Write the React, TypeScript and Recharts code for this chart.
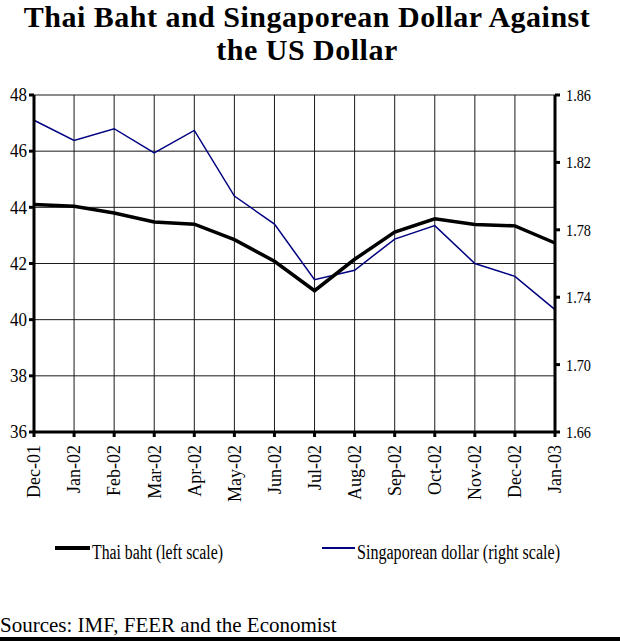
import React from 'react';
import { LineChart, Line, XAxis, YAxis, CartesianGrid } from 'recharts';

// month labels along the x axis
const months = [
  'Dec-01', 'Jan-02', 'Feb-02', 'Mar-02', 'Apr-02', 'May-02', 'Jun-02',
  'Jul-02', 'Aug-02', 'Sep-02', 'Oct-02', 'Nov-02', 'Dec-02', 'Jan-03',
];

// baht per US dollar (left scale)
const thaiBaht = [
  44.1, 44.04, 43.8, 43.48, 43.4, 42.85, 42.08, 41.03, 42.15, 43.12, 43.59, 43.39, 43.34, 42.73,
];

// Singapore dollar per US dollar (right scale)
const sgDollar = [
  1.845, 1.833, 1.84, 1.8256, 1.839, 1.8, 1.7834, 1.7504, 1.756, 1.7745, 1.7825, 1.76, 1.7524, 1.7326,
];

const leftTicks = [36, 38, 40, 42, 44, 46, 48];
const rightTicks = [1.66, 1.7, 1.74, 1.78, 1.82, 1.86];

const seriesNames = ['Thai baht (left scale)', 'Singaporean dollar (right scale)'];

const titleLines = ['Thai Baht and Singaporean Dollar Against', 'the US Dollar'];
const sourceNote = 'Sources: IMF, FEER and the Economist';

const data = months.map((m, i) => ({ month: m, baht: thaiBaht[i], sgd: sgDollar[i] }));

const SERIF = '"Liberation Serif", "Times New Roman", serif';

const XTick = (props: any) => {
  const { x, y, payload } = props;
  return (
    <g transform={`translate(${x},${y})`}>
      <text
        x={0}
        y={0}
        dy="0.35em"
        transform="rotate(-90)"
        textAnchor="end"
        fontSize={18}
        fontFamily={SERIF}
        fill="#000"
      >
        {payload.value}
      </text>
    </g>
  );
};

const LeftTick = (props: any) => {
  const { x, y, payload } = props;
  const label = String(payload.value);
  return (
    <text
      x={x}
      y={y}
      dy="0.35em"
      textAnchor="end"
      fontSize={18}
      fontFamily={SERIF}
      fill="#000"
      textLength={label.length * 8.5}
      lengthAdjust="spacingAndGlyphs"
    >
      {label}
    </text>
  );
};

const RightTick = (props: any) => {
  const { x, y, payload } = props;
  const label = Number(payload.value).toFixed(2);
  return (
    <text
      x={x}
      y={y}
      dy="0.35em"
      textAnchor="start"
      fontSize={17}
      fontFamily={SERIF}
      fill="#000"
      textLength={25}
      lengthAdjust="spacingAndGlyphs"
    >
      {label}
    </text>
  );
};

const axisLine = { stroke: '#000', strokeWidth: 3 };
const tickLine = { stroke: '#000', strokeWidth: 3 };

export default function App() {
  return (
    <div
      style={{
        position: 'absolute',
        left: 0,
        top: 0,
        width: 620,
        height: 641,
        background: '#fff',
        overflow: 'hidden',
      }}
    >
      <div
        style={{
          position: 'absolute',
          left: 0,
          top: 0,
          width: 614,
          textAlign: 'center',
          fontFamily: SERIF,
          fontWeight: 'bold',
          fontSize: 30,
          lineHeight: '33px',
          letterSpacing: 0.5,
          color: '#000',
        }}
      >
        {titleLines.map((t) => (
          <div key={t}>{t}</div>
        ))}
      </div>

      <div style={{ position: 'absolute', left: 0, top: 0 }}>
        <LineChart width={620} height={520} data={data} margin={{ top: 95, right: 0, bottom: 0, left: 0 }}>
          <CartesianGrid yAxisId="left" stroke="#1a1a1a" strokeWidth={1} horizontalValues={leftTicks} />
          <XAxis
            dataKey="month"
            height={88}
            interval={0}
            tick={<XTick />}
            tickSize={5}
            tickMargin={8}
            axisLine={axisLine}
            tickLine={tickLine}
          />
          <YAxis
            yAxisId="left"
            orientation="left"
            width={34}
            domain={[36, 48]}
            ticks={leftTicks}
            interval={0}
            tick={<LeftTick />}
            tickSize={5}
            tickMargin={2}
            axisLine={axisLine}
            tickLine={tickLine}
            allowDataOverflow
          />
          <YAxis
            yAxisId="right"
            orientation="right"
            width={65}
            domain={[1.66, 1.86]}
            ticks={rightTicks}
            interval={0}
            tick={<RightTick />}
            tickSize={5}
            tickMargin={6}
            axisLine={axisLine}
            tickLine={tickLine}
            allowDataOverflow
          />
          <Line
            yAxisId="right"
            dataKey="sgd"
            name={seriesNames[1]}
            type="linear"
            stroke="#000080"
            strokeWidth={1.5}
            dot={false}
            activeDot={false}
            isAnimationActive={false}
          />
          <Line
            yAxisId="left"
            dataKey="baht"
            name={seriesNames[0]}
            type="linear"
            stroke="#000"
            strokeWidth={3.5}
            dot={false}
            activeDot={false}
            isAnimationActive={false}
          />
        </LineChart>
      </div>

      <svg style={{ position: 'absolute', left: 0, top: 520 }} width={620} height={121}>
        <line x1={55} y1={28} x2={90} y2={28} stroke="#000" strokeWidth={4} />
        <text
          x={92}
          y={39}
          fontSize={20}
          fontFamily={SERIF}
          fill="#000"
          textLength={131}
          lengthAdjust="spacingAndGlyphs"
        >
          {seriesNames[0]}
        </text>
        <line x1={322} y1={28} x2={355} y2={28} stroke="#000080" strokeWidth={2} />
        <text
          x={357}
          y={39}
          fontSize={20}
          fontFamily={SERIF}
          fill="#000"
          textLength={203}
          lengthAdjust="spacingAndGlyphs"
        >
          {seriesNames[1]}
        </text>
        <text x={0} y={112} fontSize={21} fontFamily={SERIF} fill="#000">
          {sourceNote}
        </text>
        <rect x={0} y={117} width={620} height={4} fill="#000" />
      </svg>
    </div>
  );
}
